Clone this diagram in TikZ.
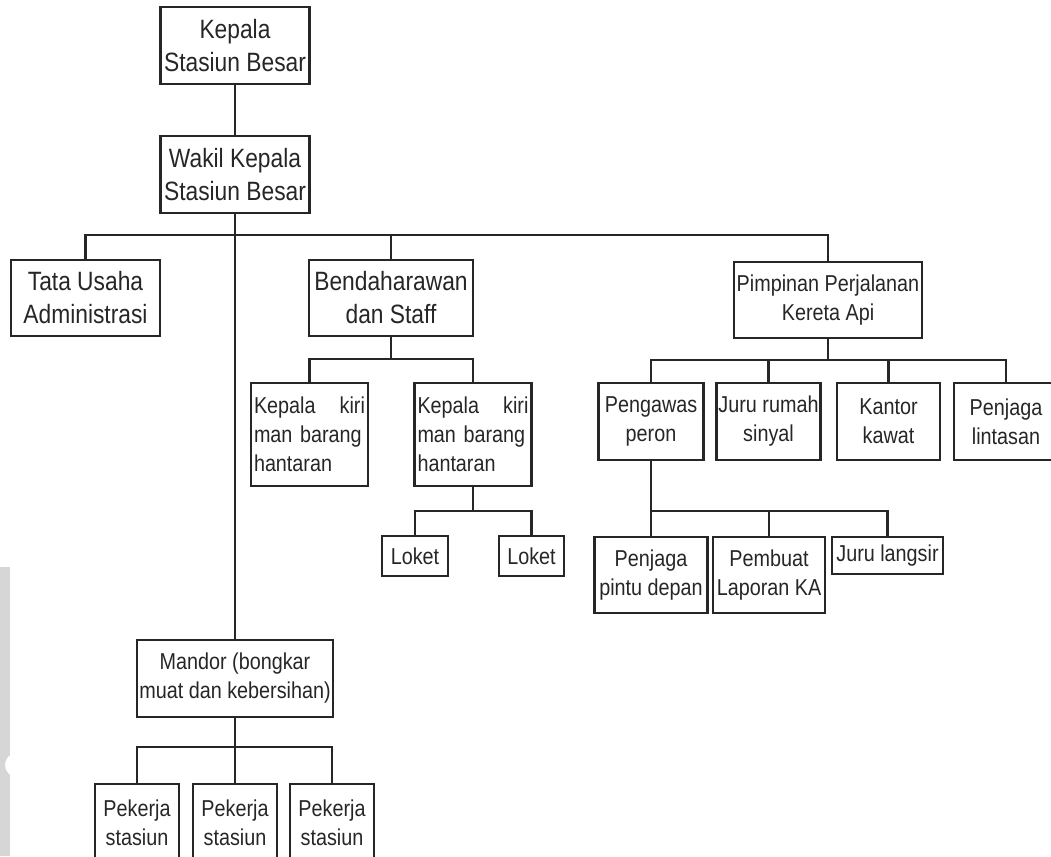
\documentclass[tikz,border=0pt]{standalone}
\usepackage{fontspec}
\setmainfont{Liberation Sans}[FakeStretch=0.86]
\newcommand\unitbig{\fontsize{26.5}{33}\selectfont}
\newcommand\unitsmall{\fontsize{23}{29}\selectfont}
\begin{document}
\begin{tikzpicture}
      [x=1pt, y=-1pt, line width=2.2pt, color=black!85,
       unit/.style={draw, rectangle, inner sep=2pt, align=center, font=\unitsmall},
       head/.style={unit, font=\unitbig},
       kiri/.style={unit, align=left, text width=111pt, inner xsep=3pt, minimum height=103pt}]
      \clip (0, 0) rectangle (1051, 856);
      \fill[black!16] (0, 567) rectangle (10, 856);
      \fill[white] (17, 765) circle (12);
      \node[head, minimum width=149pt, minimum height=77pt](1) at (235, 45.5) {Kepala\\Stasiun Besar};
      \node[head, minimum width=149pt, minimum height=77pt](2) at (235, 174.5) {Wakil Kepala\\Stasiun Besar};
      \node[head, minimum width=149pt, minimum height=76pt](3) at (85.5, 298) {Tata Usaha\\Administrasi};
      \node[head, minimum width=164pt, minimum height=76pt](4) at (391, 298) {Bendaharawan\\dan Staff};
      \node[unit, minimum width=188pt, minimum height=76pt](5) at (828, 300) {Pimpinan Perjalanan\\Kereta Api};
      \node[unit, minimum width=105pt, minimum height=77pt](6) at (651, 421.5) {Pengawas\\peron};
      \node[unit, minimum width=103pt, minimum height=77pt](7) at (768.5, 421.5) {Juru rumah\\sinyal};
      \node[unit, minimum width=103pt, minimum height=77pt](8) at (888.5, 421.5) {Kantor\\kawat};
      \node[unit, minimum width=104pt, minimum height=77pt](9) at (1006, 421.5) {Penjaga\\lintasan};
      \node[unit, minimum width=113pt, minimum height=76pt](10) at (651, 575) {Penjaga\\pintu depan};
      \node[unit, minimum width=112pt, minimum height=76pt](11) at (769, 575) {Pembuat\\Laporan KA};
      \node[unit, minimum width=111pt, minimum height=37pt](12) at (887.5, 555.5) {Juru langsir};
      \node[kiri](13) at (309.5, 434.5) {Kepala\hfill kiri\\man barang\\hantaran};
      \node[kiri](14) at (473, 434.5) {Kepala\hfill kiri\\man barang\\hantaran};
      \node[unit, minimum width=66pt, minimum height=40pt](15) at (415, 556) {Loket};
      \node[unit, minimum width=65pt, minimum height=40pt](16) at (531.5, 556) {Loket};
      \node[unit, minimum width=196pt, minimum height=77pt](17) at (235, 678.5) {Mandor (bongkar\\muat dan kebersihan)};
      \node[unit, minimum width=84pt, minimum height=77pt](18) at (137, 822.5) {Pekerja\\stasiun};
      \node[unit, minimum width=84pt, minimum height=77pt](19) at (235, 822.5) {Pekerja\\stasiun};
      \node[unit, minimum width=84pt, minimum height=77pt](20) at (332, 822.5) {Pekerja\\stasiun};
      \coordinate(b2) at (235, 235);
      \coordinate(b4) at (391, 359);
      \coordinate(b5) at (828, 360);
      \coordinate(b6) at (651, 511);
      \coordinate(b14) at (473, 511);
      \coordinate(b17) at (235, 747);
      \draw(1) -- (2);
      \draw(2.south) -- (17.north);
      \draw(3.north) |- (b2) -| (5.north);
      \draw(4.north) -- (4.north |- b2);
      \draw(4.south) -- (b4);
      \draw(13.north) |- (b4) -| (14.north);
      \draw(14.south) -- (b14);
      \draw(15.north) |- (b14) -| (16.north);
      \draw(5.south) -- (b5);
      \draw(6.north) |- (b5) -| (9.north);
      \draw(7.north) -- (7.north |- b5);
      \draw(8.north) -- (8.north |- b5);
      \draw(6.south) -- (10.north);
      \draw(10.north |- b6) -| (12.north);
      \draw(11.north) -- (11.north |- b6);
      \draw(17.south) -- (19.north);
      \draw(18.north) |- (b17) -| (20.north);
  \end{tikzpicture}
\end{document}
